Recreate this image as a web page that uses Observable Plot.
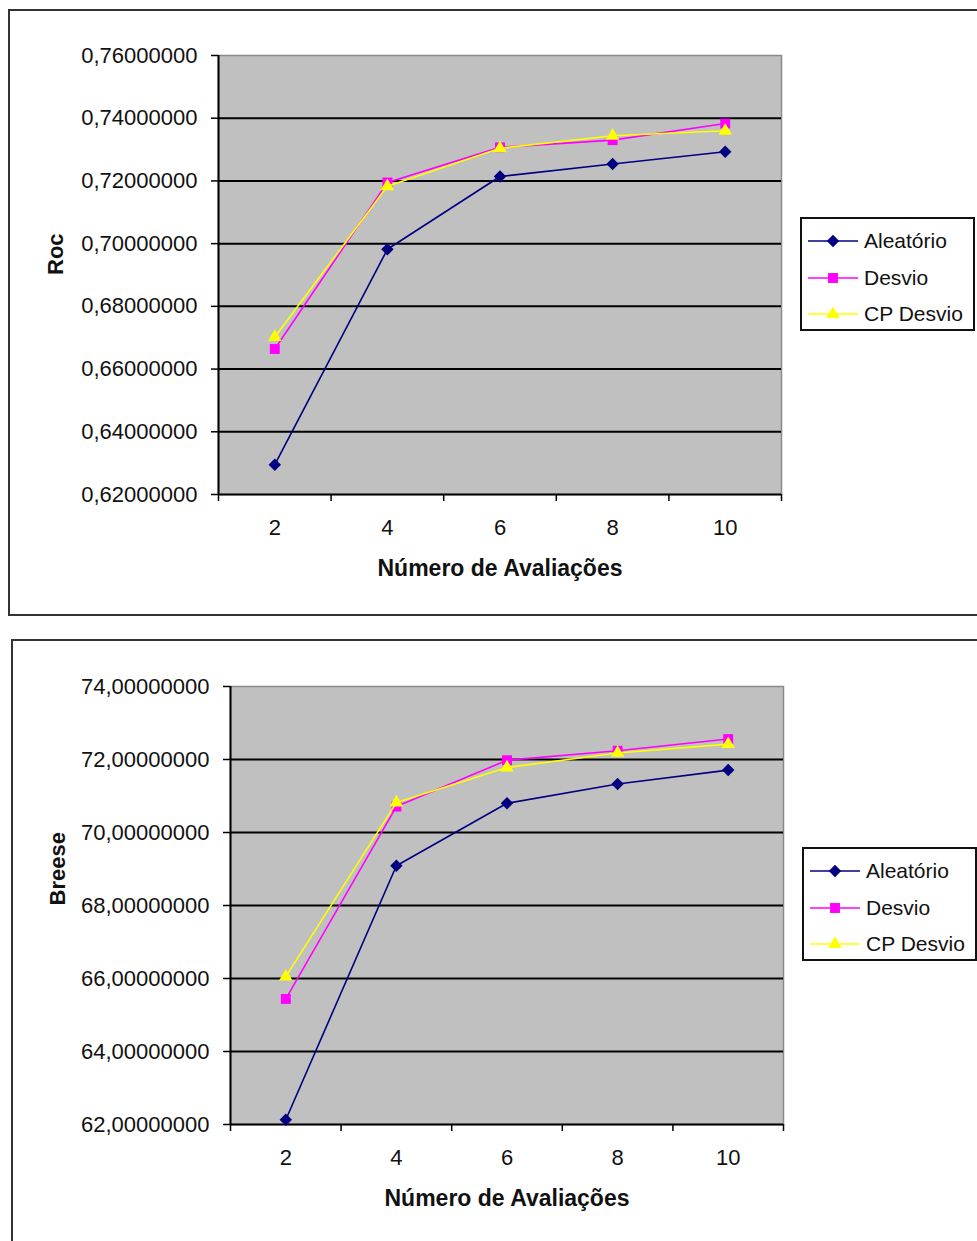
<!DOCTYPE html>
<html>
<head>
<meta charset="utf-8">
<script src="https://cdn.jsdelivr.net/npm/d3@7"></script>
<script src="https://cdn.jsdelivr.net/npm/@observablehq/plot@0.6"></script>
<style>
  html, body { margin: 0; padding: 0; background: #fff; }
  body { width: 977px; height: 1241px; position: relative; overflow: hidden; font-family: "Liberation Sans", Arial, sans-serif; }
  .box { position: absolute; border: 2px solid #333; box-sizing: border-box; }
  .chart { position: absolute; left: 0; }
  .legend { position: absolute; border: 2px solid #111; background: #fff; box-sizing: border-box; width: 175px; height: 114px; }
  .legend .row { position: absolute; left: 6px; height: 36px; display: flex; align-items: center; font-size: 21px; color: #111; }
  .legend svg { margin-right: 4px; }
</style>
</head>
<body>
<div class="box" style="left:8px; top:9px; width:1000px; height:607px;"></div>
<div class="box" style="left:11px; top:639px; width:1000px; height:700px;"></div>
<div id="c1" class="chart" style="top:0px;"></div>
<div id="c2" class="chart" style="top:625px;"></div>
<div id="l1" class="legend" style="left:800px; top:217px;"></div>
<div id="l2" class="legend" style="left:802px; top:847px;"></div>
<script>
// ---- data ----
const avaliacoes = [2, 4, 6, 8, 10];
const seriesNames = ["Aleatório", "Desvio", "CP Desvio"];

const rocAleatorio = [0.6295, 0.6982, 0.7214, 0.7254, 0.7293];
const rocDesvio    = [0.6664, 0.7195, 0.7307, 0.7330, 0.7383];
const rocCPDesvio  = [0.6702, 0.7183, 0.7304, 0.7344, 0.7360];
const rocTicks = [0.62, 0.64, 0.66, 0.68, 0.70, 0.72, 0.74, 0.76];

const breeseAleatorio = [62.13, 69.09, 70.80, 71.33, 71.71];
const breeseDesvio    = [65.44, 70.71, 71.98, 72.24, 72.56];
const breeseCPDesvio  = [66.05, 70.82, 71.78, 72.18, 72.42];
const breeseTicks = [62, 64, 66, 68, 70, 72, 74];

const xTitle = "Número de Avaliações";
const colors = ["#000080", "#ff00ff", "#ffff00"];
const symbols = ["diamond2", "square", "triangle"];
const radii = [5.6, 5.6, 5];

function toRows(arrays) {
  const rows = [];
  arrays.forEach((vals, si) => vals.forEach((v, i) => rows.push({x: avaliacoes[i], y: v, s: seriesNames[si], si})));
  return rows;
}
const fmt = v => v.toFixed(8).replace(".", ",");

function makeChart({arrays, ticks, yLabel, height, mTop, mBottom, mLeft, mRight, yLabelDx}) {
  const rows = toRows(arrays);
  const step = avaliacoes[1] - avaliacoes[0];
  const xDomain = [avaliacoes[0] - step / 2, avaliacoes[avaliacoes.length - 1] + step / 2];
  const boundaries = [avaliacoes[0] - step / 2, ...avaliacoes.map(a => a + step / 2)];
  const yDomain = [ticks[0], ticks[ticks.length - 1]];
  const marks = [
    Plot.frame({fill: "#c0c0c0", stroke: "#8a8a8a", strokeWidth: 1.5}),
    Plot.ruleY(ticks.slice(0, -1), {stroke: "#000", strokeWidth: 2}),
    Plot.ruleX([xDomain[0]], {stroke: "#000", strokeWidth: 2}),
    Plot.axisY({ticks, tickSize: 7, tickPadding: 14, tickFormat: fmt, label: null, stroke: "#000", strokeWidth: 1.5, fill: "#111"}),
    Plot.axisX({ticks: boundaries, tickSize: 7, tickFormat: () => "", label: null, stroke: "#000", strokeWidth: 1.5}),
    Plot.axisX({ticks: avaliacoes, tickSize: 0, tickPadding: 25, tickFormat: d => String(d), label: null, fill: "#111"}),
    Plot.text([xTitle], {frameAnchor: "bottom", dy: 81, fontWeight: "bold", fontSize: 23, fill: "#111"}),
    Plot.text([yLabel], {frameAnchor: "left", dx: yLabelDx, rotate: -90, fontWeight: "bold", fontSize: 22, fill: "#111"})
  ];
  seriesNames.forEach((name, si) => {
    const data = rows.filter(r => r.si === si);
    marks.push(Plot.line(data, {x: "x", y: "y", stroke: colors[si], strokeWidth: 1.6}));
    marks.push(Plot.dot(data, {x: "x", y: "y", symbol: () => symbols[si], fill: colors[si], stroke: "none", r: radii[si]}));
  });
  return Plot.plot({
    width: 977, height,
    marginTop: mTop, marginBottom: mBottom, marginLeft: mLeft, marginRight: mRight,
    x: {domain: xDomain},
    y: {domain: yDomain},
    style: {fontSize: "22px", fontFamily: "'Liberation Sans', Arial, sans-serif", background: "transparent", overflow: "visible"},
    marks
  });
}

document.getElementById("c1").append(makeChart({
  arrays: [rocAleatorio, rocDesvio, rocCPDesvio], ticks: rocTicks, yLabel: "Roc",
  height: 615, mTop: 55, mBottom: 121, mLeft: 218, mRight: 196, yLabelDx: -163
}));
document.getElementById("c2").append(makeChart({
  arrays: [breeseAleatorio, breeseDesvio, breeseCPDesvio], ticks: breeseTicks, yLabel: "Breese",
  height: 616, mTop: 61, mBottom: 117, mLeft: 230, mRight: 194, yLabelDx: -173
}));

function legend(el) {
  seriesNames.forEach((name, si) => {
    const row = document.createElement("div");
    row.className = "row";
    row.style.top = (4 + si * 36.5) + "px";
    const ns = "http://www.w3.org/2000/svg";
    const svg = document.createElementNS(ns, "svg");
    svg.setAttribute("width", 52); svg.setAttribute("height", 20);
    const line = document.createElementNS(ns, "line");
    line.setAttribute("x1", 0); line.setAttribute("x2", 50); line.setAttribute("y1", 10); line.setAttribute("y2", 10);
    line.setAttribute("stroke", colors[si]); line.setAttribute("stroke-width", 1.6);
    svg.append(line);
    const p = document.createElementNS(ns, "path");
    const sym = [d3.symbolDiamond2, d3.symbolSquare, d3.symbolTriangle][si];
    p.setAttribute("d", d3.symbol(sym, Math.PI * radii[si] * radii[si])());
    p.setAttribute("transform", "translate(25,10)");
    p.setAttribute("fill", colors[si]);
    svg.append(p);
    row.append(svg);
    row.append(document.createTextNode(name));
    el.append(row);
  });
}
legend(document.getElementById("l1"));
legend(document.getElementById("l2"));
</script>
</body>
</html>
